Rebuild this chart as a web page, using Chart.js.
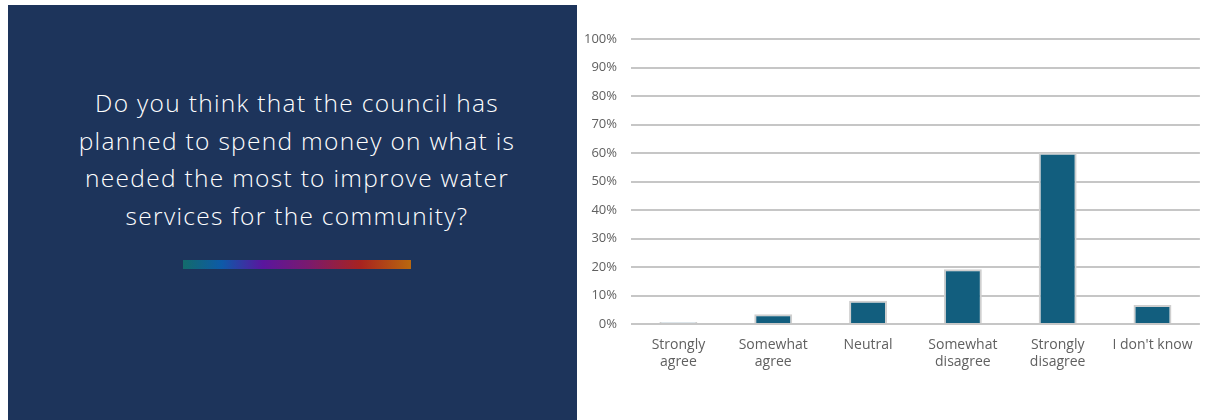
<!DOCTYPE html>
<html><head><meta charset="utf-8">
<script src="https://cdn.jsdelivr.net/npm/chart.js@4/dist/chart.umd.min.js"></script>
<style>
html,body{margin:0;padding:0;background:#fff;width:1206px;height:420px;overflow:hidden;}
#panel{position:absolute;left:8px;top:5px;width:569px;height:415px;background:#1d345b;}
#q{position:absolute;left:0;top:79px;width:578px;text-align:center;color:#fff;font-family:"Open Sans",sans-serif;font-weight:300;font-size:24.5px;line-height:37.5px;letter-spacing:1.3px;white-space:nowrap;}
#bar{position:absolute;left:175px;top:255px;width:228px;height:9px;background:linear-gradient(to right,#136b6b 0%,#0d5aa8 17%,#5a169e 35%,#7a1a6e 55%,#a8231f 78%,#b8680f 100%);}
#wrap{position:absolute;left:577px;top:0;width:629px;height:420px;}
</style></head>
<body>
<div id="panel">
<div id="q">Do you think that the council has<br>planned to spend money on what is<br>needed the most to improve water<br>services for the community?</div>
<div id="bar"></div>
</div>
<div id="wrap"><canvas id="c"></canvas></div>
<script>
const categories = [["Strongly","agree"],["Somewhat","agree"],["Neutral"],["Somewhat","disagree"],["Strongly","disagree"],["I don't know"]];
const values = [0.7, 3.4, 8.2, 19.2, 60.1, 6.7];
const yTicks = [0,10,20,30,40,50,60,70,80,90,100];
new Chart(document.getElementById('c'), {
  type: 'bar',
  data: { labels: categories, datasets: [{ data: values, backgroundColor: ['#d3e4ee','#125e7e','#125e7e','#125e7e','#125e7e','#125e7e'], borderColor: '#cfcfcf', borderWidth: 2, borderSkipped: 'bottom', categoryPercentage: 1, barPercentage: 0.4 }] },
  options: {
    responsive: true, maintainAspectRatio: false, animation: false,
    layout: { padding: { top: 39, right: 6, left: 0, bottom: 0 } },
    plugins: { legend: { display: false }, tooltip: { enabled: false } },
    scales: {
      x: {
        grid: { display: false, drawTicks: false },
        border: { display: false },
        ticks: { color: '#606060', font: { family: 'Open Sans', size: 14 }, padding: 13, maxRotation: 0, autoSkip: false, lineHeight: 1.3 },
        afterFit: (s) => { s.height = 96; }
      },
      y: {
        min: 0, max: 100,
        afterBuildTicks: (s) => { s.ticks = yTicks.map(v => ({ value: v })); },
        grid: { color: '#c6c6c6', lineWidth: 2, drawTicks: false },
        border: { display: false },
        ticks: { color: '#606060', font: { family: 'Open Sans', size: 13 }, padding: 14, callback: v => v + '%' },
        afterFit: (s) => { s.width = 54; }
      }
    }
  }
});
</script>
</body></html>
